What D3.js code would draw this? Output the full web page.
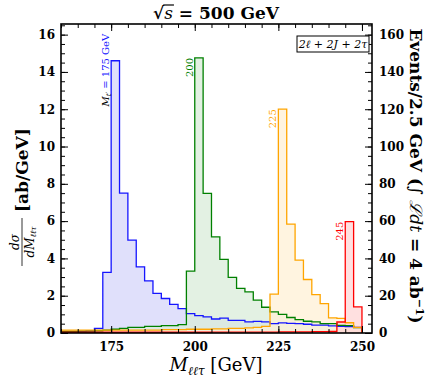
<body>
<script src="https://d3js.org/d3.v7.min.js"></script>
<style>
  body { margin: 0; background: #fff; }
  text { font-family: "DejaVu Serif", serif; }
  .tick text { font-size: 12px; font-weight: bold; }
</style>
<script>
// bin lower edges, 2.5 GeV wide
const binEdges = [160, 162.5, 165, 167.5, 170, 172.5, 175, 177.5, 180, 182.5, 185, 187.5,
  190, 192.5, 195, 197.5, 200, 202.5, 205, 207.5, 210, 212.5, 215, 217.5,
  220, 222.5, 225, 227.5, 230, 232.5, 235, 237.5, 240, 242.5, 245, 247.5];
const binWidth = 2.5;

// dsigma/dM in ab/GeV
const m175 = [0.05, 0.06, 0.08, 0.12, 0.25, 3.25, 14.6, 7.5, 4.98, 3.55, 2.8, 2.12,
  1.85, 1.54, 1.31, 1.04, 0.93, 0.86, 0.75, 0.8, 0.68, 0.68, 0.6, 0.62,
  0.6, 0.5, 0.54, 0.52, 0.5, 0.47, 0.42, 0.42, 0.38, 0.36, 0.34, 0.3];
const m200 = [0.08, 0.08, 0.1, 0.1, 0.12, 0.15, 0.2, 0.25, 0.3, 0.3, 0.35, 0.35,
  0.4, 0.4, 0.45, 3.32, 14.75, 7.49, 5.16, 3.95, 2.98, 2.39, 2.2, 1.76,
  1.38, 1.13, 1.0, 0.83, 0.72, 0.63, 0.6, 0.5, 0.5, 0.41, 0.4, 0.29];
const m225 = [0.15, 0.15, 0.15, 0.15, 0.15, 0.15, 0.15, 0.15, 0.15, 0.15, 0.15, 0.15,
  0.18, 0.18, 0.18, 0.2, 0.2, 0.2, 0.22, 0.22, 0.25, 0.25, 0.28, 0.3,
  0.35, 2.08, 12.0, 5.84, 3.91, 2.87, 2.06, 1.58, 0.81, 0.78, 0.55, 0.3];
const m245 = [0.04, 0.04, 0.04, 0.04, 0.04, 0.04, 0.04, 0.04, 0.04, 0.04, 0.04, 0.04,
  0.04, 0.04, 0.04, 0.04, 0.04, 0.04, 0.05, 0.05, 0.05, 0.05, 0.05, 0.05,
  0.05, 0.05, 0.06, 0.06, 0.06, 0.06, 0.07, 0.07, 0.08, 0.59, 5.97, 1.4];

const seriesNames = ["175", "200", "225", "245"];
const seriesColors = ["#1515ff", "#008000", "#ffa500", "#ff0000"];
const seriesFills = ["#d6d6fa", "#d9ecd9", "#fff0d6", "#ffd6d6"];

const xTicks = [175, 200, 225, 250];
const yTicks = [0, 2, 4, 6, 8, 10, 12, 14, 16];
const y2Ticks = [0, 20, 40, 60, 80, 100, 120, 140, 160];
const eventsPerUnit = 10; // 4 ab^-1 * 2.5 GeV

const W = 436, H = 383;
const margin = {top: 24, right: 64, bottom: 50, left: 61};
const width = W - margin.left - margin.right;
const height = H - margin.top - margin.bottom;

const svg = d3.select("body").append("svg")
  .attr("width", W).attr("height", H);

const x = d3.scaleLinear().domain([160, 253]).range([0, width]);
const y = d3.scaleLinear().domain([0, 16.57]).range([height, 0]);
const y2 = d3.scaleLinear().domain([0, 16.57 * eventsPerUnit]).range([height, 0]);

const g = svg.append("g")
  .attr("transform", "translate(" + margin.left + "," + margin.top + ")");

g.append("clipPath").attr("id", "clip")
  .append("rect").attr("width", width).attr("height", height);

const plot = g.append("g").attr("clip-path", "url(#clip)");

const allSeries = [m175, m200, m225, m245];
allSeries.forEach((vals, i) => {
  const pts = binEdges.map((e, j) => ({x: e, v: vals[j]}));
  pts.push({x: binEdges[binEdges.length - 1] + binWidth, v: vals[vals.length - 1]});
  const area = d3.area().curve(d3.curveStepAfter)
    .x(d => x(d.x)).y0(y(0)).y1(d => y(d.v));
  plot.append("path").datum(pts)
    .attr("d", area)
    .attr("fill", seriesFills[i]).attr("fill-opacity", 0.75);
});
allSeries.forEach((vals, i) => {
  const pts = binEdges.map((e, j) => ({x: e, v: vals[j]}));
  pts.push({x: binEdges[binEdges.length - 1] + binWidth, v: vals[vals.length - 1]});
  pts.push({x: binEdges[binEdges.length - 1] + binWidth, v: 0});
  const line = d3.line().curve(d3.curveStepAfter)
    .x(d => x(d.x)).y(d => y(d.v));
  plot.append("path").datum(pts)
    .attr("d", line)
    .attr("fill", "none")
    .attr("stroke", seriesColors[i]).attr("stroke-width", 1.3);
});

// peak labels
allSeries.forEach((vals, i) => {
  const k = vals.indexOf(d3.max(vals));
  const px = x(binEdges[k]) - 2;
  let py = y(vals[k]);
  const t = g.append("text")
    .attr("font-size", 10)
    .attr("fill", seriesColors[i])
    .attr("text-anchor", "end");
  if (i === 0) {
    py = py - 27;
    t.append("tspan").attr("fill", "#000").attr("font-style", "italic").text("M");
    t.append("tspan").attr("fill", "#000").attr("font-style", "italic")
      .attr("font-size", 7).attr("dy", 2).text("t′");
    t.append("tspan").attr("dy", -2).text(" = " + seriesNames[i] + " GeV");
  } else {
    t.text(seriesNames[i]);
  }
  t.attr("transform", "translate(" + px + "," + py + ") rotate(-90)");
});

// axes with inward ticks
const minorX = d3.range(160, 254, 5);
const minorY = d3.range(0, 16.6, 0.5);
const minorY2 = d3.range(0, 166, 5);

g.append("g").attr("transform", "translate(0," + height + ")")
  .call(d3.axisBottom(x).tickValues(minorX).tickSize(-4).tickFormat(""));
g.append("g").attr("transform", "translate(0," + height + ")")
  .call(d3.axisBottom(x).tickValues(xTicks).tickSize(-7).tickPadding(9).tickFormat(d3.format("d")));
g.append("g")
  .call(d3.axisTop(x).tickValues(minorX).tickSize(-4).tickFormat(""));
g.append("g")
  .call(d3.axisTop(x).tickValues(xTicks).tickSize(-7).tickFormat(""));

g.append("g")
  .call(d3.axisLeft(y).tickValues(minorY).tickSize(-4).tickFormat(""));
g.append("g")
  .call(d3.axisLeft(y).tickValues(yTicks).tickSize(-7).tickPadding(6).tickFormat(d3.format("d")));

g.append("g").attr("transform", "translate(" + width + ",0)")
  .call(d3.axisRight(y2).tickValues(minorY2).tickSize(-4).tickFormat(""));
g.append("g").attr("transform", "translate(" + width + ",0)")
  .call(d3.axisRight(y2).tickValues(y2Ticks).tickSize(-7).tickPadding(7).tickFormat(d3.format("d")));

g.selectAll(".domain").remove();
g.selectAll(".tick line").attr("stroke", "#000").attr("stroke-width", 1);
g.selectAll(".tick text").attr("fill", "#000");

g.append("rect").attr("width", width).attr("height", height)
  .attr("fill", "none").attr("stroke", "#000").attr("stroke-width", 1.6);

// channel box
const box = g.append("g").attr("transform", "translate(" + (width - 75) + ",12)");
box.append("rect").attr("width", 72).attr("height", 16)
  .attr("fill", "#fff").attr("stroke", "#000").attr("stroke-width", 1);
box.append("text").attr("x", 36).attr("y", 12).attr("text-anchor", "middle")
  .attr("font-size", 11).attr("font-style", "italic").text("2ℓ + 2J + 2τ");

// title
const title = svg.append("text").attr("x", 216).attr("y", 19)
  .attr("text-anchor", "middle").attr("font-size", 17).attr("font-weight", "bold");
title.append("tspan").text("√");
title.append("tspan").attr("font-style", "italic").attr("font-weight", "normal").text("s");
title.append("tspan").text(" = 500 GeV");
const rootBox = title.node().getExtentOfChar(0);
const sBox = title.node().getExtentOfChar(1);
svg.append("line")
  .attr("x1", rootBox.x + rootBox.width - 1).attr("x2", sBox.x + sBox.width + 1)
  .attr("y1", rootBox.y + 2).attr("y2", rootBox.y + 2)
  .attr("stroke", "#000").attr("stroke-width", 1.2);

// x label
const xl = svg.append("text").attr("x", 216).attr("y", 371)
  .attr("text-anchor", "middle").attr("font-size", 18);
xl.append("tspan").attr("font-style", "italic").text("M");
xl.append("tspan").attr("font-style", "italic").attr("font-size", 12).attr("dy", 4).text("ℓℓτ");
xl.append("tspan").attr("dy", -4).text(" [GeV]");

// left label
const yl = svg.append("g").attr("transform", "translate(25,190) rotate(-90)");
yl.append("text").attr("x", -52).attr("y", -6).attr("text-anchor", "middle")
  .attr("font-size", 12).attr("font-style", "italic").text("dσ");
yl.append("line").attr("x1", -76).attr("x2", -28).attr("y1", -3).attr("y2", -3)
  .attr("stroke", "#000").attr("stroke-width", 0.8);
const den = yl.append("text").attr("x", -52).attr("y", 9).attr("text-anchor", "middle")
  .attr("font-size", 12).attr("font-style", "italic");
den.append("tspan").text("dM");
den.append("tspan").attr("font-size", 8).attr("dy", 2).text("ℓℓτ");
yl.append("text").attr("x", -22).attr("y", 3).attr("font-size", 17).attr("font-weight", "bold")
  .text("[ab/GeV]");

// right label
const rl = svg.append("text").attr("transform", "translate(410,176) rotate(90)")
  .attr("text-anchor", "middle").attr("font-size", 17).attr("font-weight", "bold");
rl.append("tspan").text("Events/2.5 GeV (");
rl.append("tspan").attr("font-weight", "normal").attr("font-style", "italic").text("∫ ℒdt");
rl.append("tspan").text(" = 4 ab");
rl.append("tspan").attr("font-size", 11).attr("dy", -6).text("−1");
rl.append("tspan").attr("dy", 6).text(")");
</script>
</body>
